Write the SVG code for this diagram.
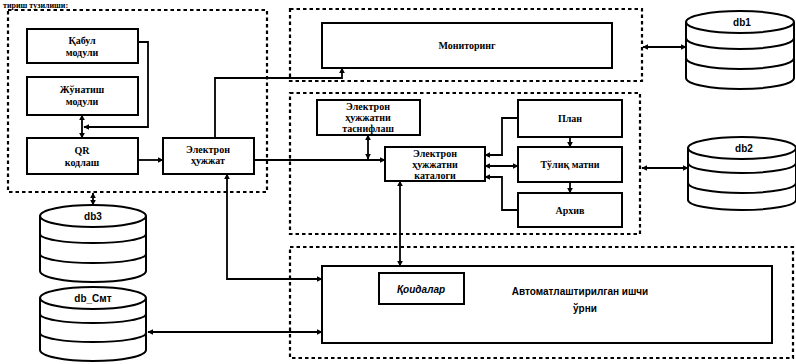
<svg xmlns="http://www.w3.org/2000/svg" width="796" height="364" viewBox="0 0 796 364">
<style>
.grp{fill:none;stroke:#000;stroke-width:2.2;stroke-dasharray:3.5 3}
.box{fill:#fff;stroke:#000;stroke-width:2}
.cyl{fill:#fff;stroke:#000;stroke-width:2}
.ln{fill:none;stroke:#000;stroke-width:2}
.con{fill:none;stroke:#000;stroke-width:1.8}
.t{font-family:"Liberation Serif",serif;font-weight:bold;font-size:10px;fill:#000;text-anchor:middle}
.s{font-family:"Liberation Sans",sans-serif;font-weight:bold;font-size:10px;fill:#000;text-anchor:middle}
.h{font-family:"Liberation Serif",serif;font-weight:bold;font-size:8px;fill:#000}
</style>
<defs>
<marker id="ae" viewBox="0 0 10 10" refX="9" refY="5" markerWidth="6" markerHeight="6" markerUnits="userSpaceOnUse" orient="auto"><path d="M0,0 L10,5 L0,10 z" fill="#000"/></marker>
<marker id="as" viewBox="0 0 10 10" refX="1" refY="5" markerWidth="6" markerHeight="6" markerUnits="userSpaceOnUse" orient="auto"><path d="M10,0 L0,5 L10,10 z" fill="#000"/></marker>
</defs>
<rect width="796" height="364" fill="#fff"/>
<text class="h" x="3" y="8">тириш тузилиши:</text>

<g id="groups">
<rect class="grp" x="8" y="10" width="259" height="182"/>
<rect class="grp" x="290" y="9" width="352" height="72"/>
<rect class="grp" x="290" y="93" width="350" height="141"/>
<rect class="grp" x="290" y="247" width="503" height="111"/>
</g>

<g id="qabul"><rect class="box" x="27" y="29" width="111" height="34"/><text class="t" x="82" y="44">Қабул</text><text class="t" x="82" y="56">модули</text></g>
<g id="jonatish"><rect class="box" x="27" y="77" width="111" height="38"/><text class="t" x="82" y="93">Жўнатиш</text><text class="t" x="82" y="105">модули</text></g>
<g id="qr"><rect class="box" x="27" y="138" width="111" height="36"/><text class="t" x="82" y="154">QR</text><text class="t" x="82" y="166">кодлаш</text></g>
<g id="elektron"><rect class="box" x="163" y="138" width="91" height="36"/><text class="t" x="208" y="153">Электрон</text><text class="t" x="208" y="164">ҳужжат</text></g>
<g id="monitoring"><rect class="box" x="322" y="23" width="290" height="45"/><text class="t" x="467" y="49">Мониторинг</text></g>
<g id="tasnif"><rect class="box" x="317" y="100" width="103" height="35"/><text class="t" x="368" y="110">Электрон</text><text class="t" x="368" y="121">ҳужжатни</text><text class="t" x="368" y="132">таснифлаш</text></g>
<g id="katalog"><rect class="box" x="385" y="147" width="100" height="34"/><text class="t" x="435" y="157">Электрон</text><text class="t" x="435" y="168">ҳужжатни</text><text class="t" x="435" y="179">каталоги</text></g>
<g id="plan"><rect class="box" x="518" y="100" width="104" height="37"/><text class="t" x="570" y="122">План</text></g>
<g id="toliq"><rect class="box" x="518" y="147" width="104" height="35"/><text class="t" x="570" y="168">Тўлиқ матни</text></g>
<g id="arxiv"><rect class="box" x="518" y="193" width="104" height="34"/><text class="t" x="570" y="214">Архив</text></g>
<g id="ishchi"><rect class="box" x="322" y="266" width="450" height="77"/><text class="s" x="580" y="295">Автоматлаштирилган ишчи</text><text class="s" x="585" y="312">ўрни</text></g>
<g id="qoidalar"><rect class="box" x="379" y="273" width="85" height="31"/><text class="s" x="421" y="293" font-style="italic">Қоидалар</text></g>

<g id="db1">
<path class="cyl" d="M686,22 V78 A54,11 0 0 0 794,78 V22"/>
<ellipse class="cyl" cx="740" cy="22" rx="54" ry="11"/>
<path class="ln" d="M686,38 A54,11 0 0 0 794,38 M686,58 A54,11 0 0 0 794,58"/>
<text class="s" x="742" y="26">db1</text>
</g>
<g id="db2">
<path class="cyl" d="M688,148 V200 A54,10 0 0 0 796,200 V148"/>
<ellipse class="cyl" cx="742" cy="148" rx="54" ry="11"/>
<path class="ln" d="M688,163 A54,10 0 0 0 796,163 M688,183 A54,10 0 0 0 796,183"/>
<text class="s" x="744" y="152">db2</text>
</g>
<g id="db3">
<path class="cyl" d="M40,216 V271 A53,11 0 0 0 146,271 V216"/>
<ellipse class="cyl" cx="93" cy="216" rx="53" ry="11"/>
<path class="ln" d="M40,234 A53,9 0 0 0 146,234 M40,254 A53,9 0 0 0 146,254"/>
<text class="s" x="93" y="220">db3</text>
</g>
<g id="dbsmt">
<path class="cyl" d="M40,298 V350 A53,11 0 0 0 146,350 V298"/>
<ellipse class="cyl" cx="93" cy="298" rx="53" ry="11"/>
<path class="ln" d="M40,314 A53,9 0 0 0 146,314 M40,333 A53,9 0 0 0 146,333"/>
<text class="s" x="93" y="302">db_Смт</text>
</g>

<g id="connectors">
<path class="con" d="M138,42 H148 V127 H84" marker-end="url(#ae)"/>
<path class="con" d="M82,115 V138" marker-start="url(#as)" marker-end="url(#ae)"/>
<path class="con" d="M138,160 H163" marker-end="url(#ae)"/>
<path class="con" d="M215,138 V78 H342 V68" marker-end="url(#ae)"/>
<path class="con" d="M254,160 H385" marker-end="url(#ae)"/>
<path class="con" d="M368,135 V159" marker-start="url(#as)" marker-end="url(#ae)"/>
<path class="con" d="M518,118 H502 V155 H485" marker-end="url(#ae)"/>
<path class="con" d="M518,166 H485" marker-start="url(#as)" marker-end="url(#ae)"/>
<path class="con" d="M518,210 H502 V177 H485" marker-end="url(#ae)"/>
<path class="con" d="M570,137 V147" marker-end="url(#ae)"/>
<path class="con" d="M570,182 V193" marker-end="url(#ae)"/>
<path class="con" d="M400,181 V266" marker-start="url(#as)" marker-end="url(#ae)"/>
<path class="con" d="M227,174 V279 H322" marker-start="url(#as)" marker-end="url(#ae)"/>
<path class="con" d="M148,332 H322" marker-start="url(#as)" marker-end="url(#ae)"/>
<path class="con" d="M93,193 V205" marker-start="url(#as)" marker-end="url(#ae)"/>
<path class="con" d="M643,47 H686" marker-start="url(#as)" marker-end="url(#ae)"/>
<path class="con" d="M642,168 H688" marker-start="url(#as)" marker-end="url(#ae)"/>
</g>
</svg>
